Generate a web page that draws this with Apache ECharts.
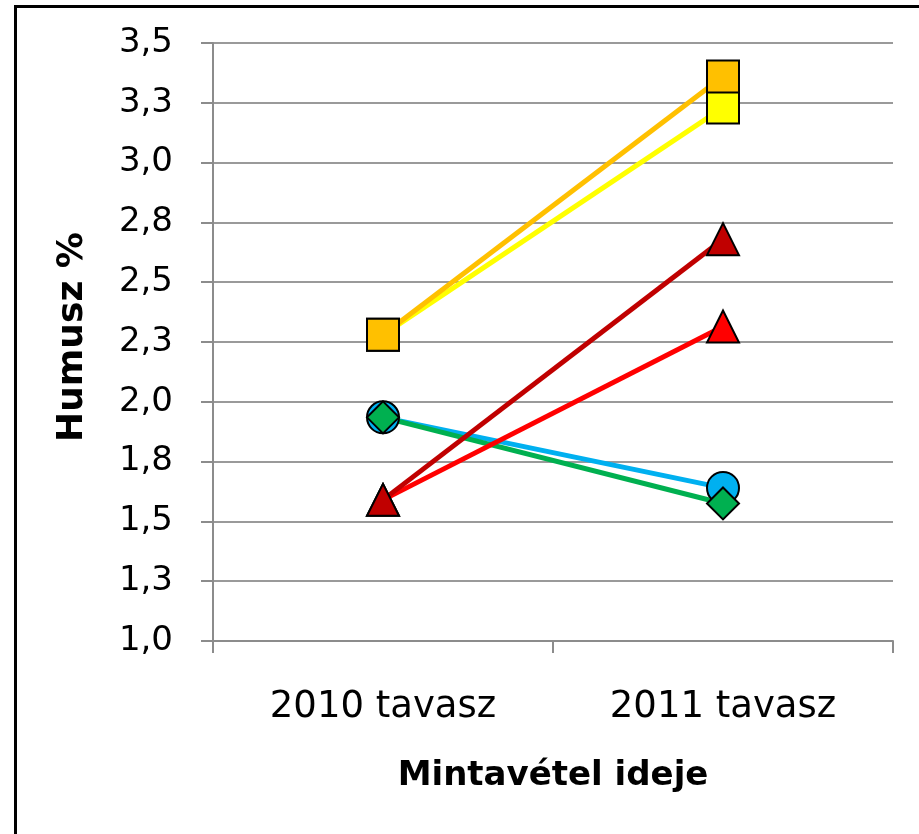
<!DOCTYPE html>
<html>
<head>
<meta charset="utf-8">
<script src="https://cdn.jsdelivr.net/npm/echarts@6/dist/echarts.min.js"></script>
<style>
  html, body { margin: 0; padding: 0; background: #fff; overflow: hidden; }
  #frame { position: absolute; left: 14px; top: 5px; width: 1000px; height: 1000px; border: 3px solid #000; box-sizing: border-box; }
  #chart { position: absolute; left: 0; top: 0; width: 919px; height: 834px; }
</style>
</head>
<body>
<div id="frame"></div>
<div id="chart"></div>
<script>
// mintavételi időpontok
var idopontok = ['2010 tavasz', '2011 tavasz'];

// humusz % értékek (sorozatonként)
var sargaSor = [2.28, 3.23];
var narancsSor = [2.28, 3.36];
var kekSor = [1.935, 1.64];
var zoldSor = [1.935, 1.575];
var pirosSor = [1.59, 2.315];
var bordoSor = [1.59, 2.68];

var betu = 'DejaVu Sans';

function sorozat(nev, adat, szin, jel) {
  return {
    name: nev,
    type: 'line',
    data: adat,
    symbol: jel,
    symbolSize: 32,
    lineStyle: { color: szin, width: 5 },
    itemStyle: { color: szin, borderColor: '#000', borderWidth: 2 },
    emphasis: { disabled: true }
  };
}

var chart = echarts.init(document.getElementById('chart'));
chart.setOption({
  animation: false,
  backgroundColor: 'transparent',
  grid: { left: 213, right: 26, top: 43, bottom: 193 },
  xAxis: {
    type: 'category',
    data: idopontok,
    boundaryGap: true,
    name: 'Mintavétel ideje',
    nameLocation: 'middle',
    nameGap: 118,
    nameTextStyle: { fontFamily: betu, fontSize: 34, fontWeight: 'bold', color: '#000' },
    axisLine: { lineStyle: { color: '#8c8c8c', width: 2 } },
    axisTick: { show: true, length: 12, lineStyle: { color: '#8c8c8c', width: 2 } },
    axisLabel: { fontFamily: betu, fontSize: 37, color: '#000', margin: 48 },
    splitLine: { show: false }
  },
  yAxis: {
    type: 'value',
    min: 1,
    max: 3.5,
    interval: 0.25,
    name: 'Humusz %',
    nameLocation: 'middle',
    nameRotate: 90,
    nameGap: 122,
    nameTextStyle: { fontFamily: betu, fontSize: 36, fontWeight: 'bold', color: '#000', padding: [0, 0, 0, 10] },
    axisLine: { show: true, lineStyle: { color: '#8c8c8c', width: 2 } },
    axisTick: { show: true, length: 12, lineStyle: { color: '#8c8c8c', width: 2 } },
    axisLabel: {
      fontFamily: betu, fontSize: 34, color: '#000', margin: 40,
      formatter: function (v) { return v.toFixed(1).replace('.', ','); }
    },
    splitLine: { show: true, lineStyle: { color: '#9a9a9a', width: 2 } }
  },
  series: [
    sorozat('sárga', sargaSor, '#FFFF00', 'rect'),
    sorozat('narancs', narancsSor, '#FFC000', 'rect'),
    sorozat('kék', kekSor, '#00B0F0', 'circle'),
    sorozat('zöld', zoldSor, '#00B050', 'diamond'),
    sorozat('piros', pirosSor, '#FF0000', 'triangle'),
    sorozat('bordó', bordoSor, '#C00000', 'triangle')
  ]
});
</script>
</body>
</html>
